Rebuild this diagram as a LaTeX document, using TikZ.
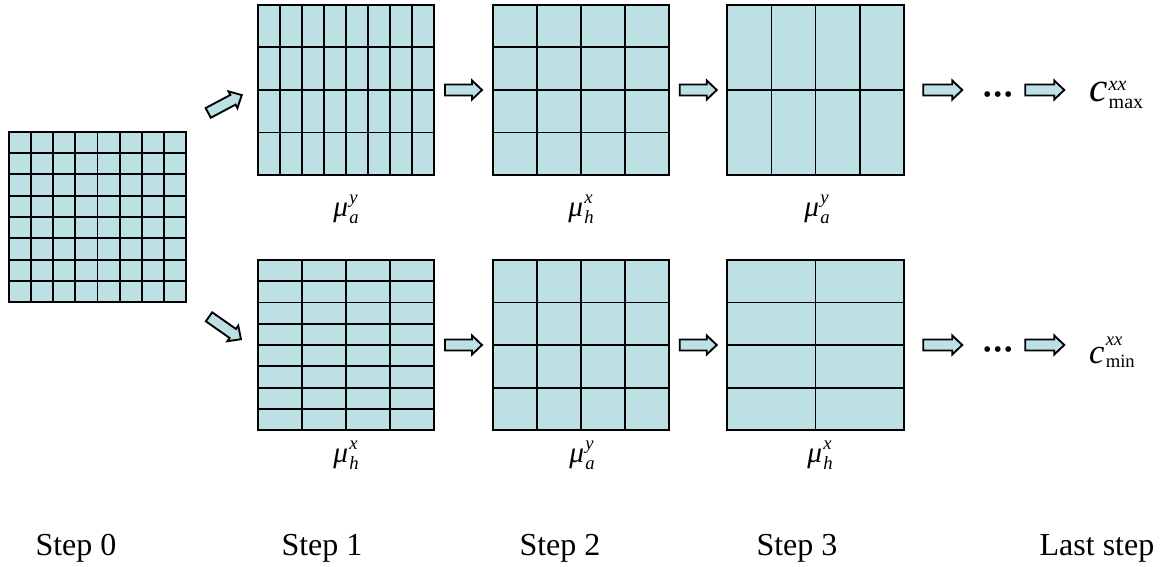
\documentclass[tikz,border=0pt]{standalone}
\usepackage{fontspec}
\setmainfont{Liberation Serif}
\usetikzlibrary{calc}
\definecolor{cellfill}{RGB}{188,224,227}

% italic symbol with a superscript and a subscript stacked after it
\newcommand\symss[7]{{\fontsize{#1}{#1}\selectfont\itshape #2\kern1pt%
  \rlap{\raisebox{#5}{\fontsize{#6}{#6}\selectfont #3}}%
  \raisebox{#7}{\fontsize{#6}{#6}\selectfont #4}}}
\newcommand\mulbl[2]{\symss{22pt}{μ}{#1}{#2}{10pt}{14pt}{-5pt}}
\newcommand\cgrid[3]{% node name, columns, rows
  \foreach \i in {1,...,#2}{\ifnum\i<#2
    \draw[rule] ($(#1.south west)!{\i/#2}!(#1.south east)$) -- ($(#1.north west)!{\i/#2}!(#1.north east)$);\fi}
  \foreach \j in {1,...,#3}{\ifnum\j<#3
    \draw[rule] ($(#1.south west)!{\j/#3}!(#1.north west)$) -- ($(#1.south east)!{\j/#3}!(#1.north east)$);\fi}
  \draw[rule] (#1.south west) rectangle (#1.north east);}

\tikzset{
  rule/.style={line width=1.3pt, black},
  board/.style={fill=cellfill, draw=none, inner sep=0pt, minimum width=132pt, minimum height=127.5pt},
  blkline/.style={draw=black, fill=cellfill, line width=1.4pt, line join=miter},
  % block arrow of the given length, pointing along local x
  pics/barrow/.style={code={
    \draw[blkline] (-#1/2,-5.5) -- (#1/2-10,-5.5) -- (#1/2-10,-9.5) -- (#1/2,0)
      -- (#1/2-10,9.5) -- (#1/2-10,5.5) -- (-#1/2,5.5) -- cycle;}},
  steplbl/.style={font=\fontsize{24pt}{24pt}\selectfont, anchor=base},
  dots/.style={inner sep=0pt, font=\fontsize{18pt}{18pt}\selectfont},
  mu/.style={inner sep=0pt}
}

\begin{document}
\begin{tikzpicture}[x=0.75pt,y=-0.75pt]
\useasboundingbox (0,0) rectangle (1165,567);

% boards
\node[board, minimum width=132.75pt] (g0) at (97.5,217) {};
\node[board] (t1) at (346,90) {};
\node[board] (b1) at (346,345) {};
\node[board] (t2) at (581,90) {};
\node[board] (b2) at (581,345) {};
\node[board] (t3) at (815.5,90) {};
\node[board] (b3) at (815.5,345) {};
\cgrid{g0}{8}{8}
\cgrid{t1}{8}{4}
\cgrid{b1}{4}{8}
\cgrid{t2}{4}{4}
\cgrid{b2}{4}{4}
\cgrid{t3}{4}{2}
\cgrid{b3}{2}{4}

% splitting arrows
\coordinate (s1) at (225,104);
\coordinate (s2) at (225,328);
\pic[rotate=28] at (s1) {barrow=38};
\pic[rotate=-35] at (s2) {barrow=39};

% arrows between boards
\coordinate (a12) at ($(t1.east)!0.5!(t2.west)$);
\coordinate (a23) at ($(t2.east)!0.5!(t3.west)$);
\coordinate (c12) at ($(b1.east)!0.5!(b2.west)$);
\coordinate (c23) at ($(b2.east)!0.5!(b3.west)$);
\foreach \p in {a12,a23,c12,c23} \pic at (\p) {barrow=37};

% tails of both rows
\coordinate (a3) at ($(t3.east)+(39,0)$);
\coordinate (a4) at ($(t3.east)+(141,0)$);
\coordinate (c3) at ($(b3.east)+(39,0)$);
\coordinate (c4) at ($(b3.east)+(141,0)$);
\foreach \p in {a3,a4,c3,c4} \pic at (\p) {barrow=39};
\node[dots] (ad) at ($(t3.east)+(94,7)$) {•\kern1.6pt•\kern1.6pt•};
\node[dots] (cd) at ($(b3.east)+(94,7)$) {•\kern1.6pt•\kern1.6pt•};
\node[inner sep=0pt, anchor=base west] (cmax) at ($(t3.east)+(185,12)$) {\symss{31pt}{c}{xx}{\upshape max}{8.5pt}{15pt}{-5pt}};
\node[inner sep=0pt, anchor=base west] (cmin) at ($(b3.east)+(185,18)$) {\symss{26pt}{c}{xx}{\upshape min}{13pt}{14pt}{-3.5pt}};

% parameter labels
\node[mu] (m1) at (346,209) {\mulbl{y}{a}};
\node[mu] (m2) at (581,209) {\mulbl{x}{h}};
\node[mu] (m3) at (817,209) {\mulbl{y}{a}};
\node[mu] (n1) at (346,455) {\mulbl{x}{h}};
\node[mu] (n2) at (582,455) {\mulbl{y}{a}};
\node[mu] (n3) at (820,455) {\mulbl{x}{h}};

% step captions
\node[steplbl] (st0) at (76,555) {Step 0};
\node[steplbl] (st1) at (322,555) {Step 1};
\node[steplbl] (st2) at (560,555) {Step 2};
\node[steplbl] (st3) at (797,555) {Step 3};
\node[steplbl] (stl) at (1097,555) {Last step};
\end{tikzpicture}
\end{document}
